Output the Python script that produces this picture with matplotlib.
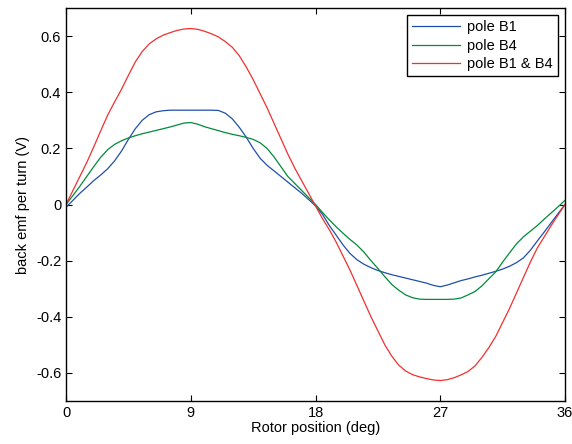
import matplotlib
matplotlib.use('Agg')
import matplotlib.pyplot as plt
import numpy as np

plt.rcParams['font.family'] = ['Liberation Sans', 'DejaVu Sans']
plt.rcParams['font.size'] = 10.5

# Dados (passo de 0.5 grau)
rotor_deg = np.arange(0, 36.5, 0.5)
pole_b1 = [-0.01, 0.015, 0.04, 0.062, 0.085, 0.105, 0.127, 0.155, 0.19, 0.232,
           0.27, 0.3, 0.32, 0.33, 0.334, 0.336, 0.336, 0.336, 0.336, 0.336,
           0.336, 0.336, 0.335, 0.325, 0.305, 0.275, 0.24, 0.2, 0.165, 0.14,
           0.12, 0.1, 0.08, 0.06, 0.04, 0.018, -0.005, -0.035, -0.075, -0.11,
           -0.145, -0.175, -0.197, -0.213, -0.225, -0.235, -0.243, -0.25, -0.256, -0.262,
           -0.268, -0.274, -0.28, -0.288, -0.293, -0.287, -0.279, -0.271, -0.265, -0.258,
           -0.252, -0.245, -0.238, -0.23, -0.22, -0.207, -0.19, -0.163, -0.13, -0.098,
           -0.065, -0.032, 0.0]
pole_b4 = [0.0, 0.032, 0.065, 0.1, 0.135, 0.168, 0.195, 0.214, 0.227, 0.237,
           0.245, 0.252, 0.258, 0.264, 0.27, 0.276, 0.283, 0.29, 0.292, 0.286,
           0.277, 0.27, 0.263, 0.256, 0.25, 0.245, 0.239, 0.232, 0.22, 0.2,
           0.17, 0.135, 0.1, 0.075, 0.05, 0.025, 0.0, -0.028, -0.055, -0.08,
           -0.103, -0.125, -0.145, -0.17, -0.2, -0.228, -0.257, -0.285, -0.305, -0.322,
           -0.332, -0.337, -0.338, -0.338, -0.338, -0.338, -0.337, -0.333, -0.322, -0.31,
           -0.29, -0.265, -0.24, -0.205, -0.172, -0.14, -0.115, -0.095, -0.075, -0.052,
           -0.03, -0.008, 0.015]
pole_b1_b4 = [0.0, 0.05, 0.1, 0.15, 0.205, 0.262, 0.318, 0.365, 0.41, 0.46,
              0.508, 0.545, 0.572, 0.59, 0.603, 0.612, 0.62, 0.625, 0.627, 0.624,
              0.617, 0.608, 0.597, 0.58, 0.56, 0.53, 0.49, 0.445, 0.395, 0.345,
              0.29, 0.235, 0.18, 0.13, 0.085, 0.04, -0.005, -0.05, -0.09, -0.135,
              -0.185, -0.235, -0.29, -0.345, -0.4, -0.45, -0.5, -0.54, -0.572, -0.593,
              -0.606, -0.614, -0.62, -0.625, -0.627, -0.624, -0.617, -0.607, -0.595, -0.575,
              -0.545, -0.51, -0.47, -0.42, -0.37, -0.315, -0.26, -0.205, -0.155, -0.115,
              -0.075, -0.037, 0.0]
x_ticks = [0, 9, 18, 27, 36]
y_ticks = [-0.6, -0.4, -0.2, 0, 0.2, 0.4, 0.6]

fig = plt.figure(figsize=(5.72, 4.44), dpi=100)
ax = fig.add_axes([0.1154, 0.0968, 0.8724, 0.8852])

ax.plot(rotor_deg, pole_b1, color='#1f4fa8', lw=0.9, label='pole B1')
ax.plot(rotor_deg, pole_b4, color='#008a3a', lw=0.9, label='pole B4')
ax.plot(rotor_deg, pole_b1_b4, color='#f03030', lw=0.9, label='pole B1 & B4')

ax.set_xlim(0, 36)
ax.set_ylim(-0.7, 0.7)
ax.set_xticks(x_ticks)
ax.set_yticks(y_ticks)
ax.set_yticklabels(['-0.6', '-0.4', '-0.2', '0', '0.2', '0.4', '0.6'])
ax.tick_params(direction='in', top=True, right=True, length=4, width=0.8)
for s in ax.spines.values():
    s.set_linewidth(1.0)

ax.set_xlabel('Rotor position (deg)', labelpad=1)
ax.set_ylabel('back emf per turn (V)', labelpad=4)

leg = ax.legend(loc='upper right', fancybox=False, edgecolor='black',
                framealpha=1, fontsize=10.5, handlelength=3.3, handletextpad=0.45,
                borderpad=0.35, labelspacing=0.3, borderaxespad=0.5)
leg.get_frame().set_linewidth(1.0)

fig.savefig('out.png', dpi=100)
